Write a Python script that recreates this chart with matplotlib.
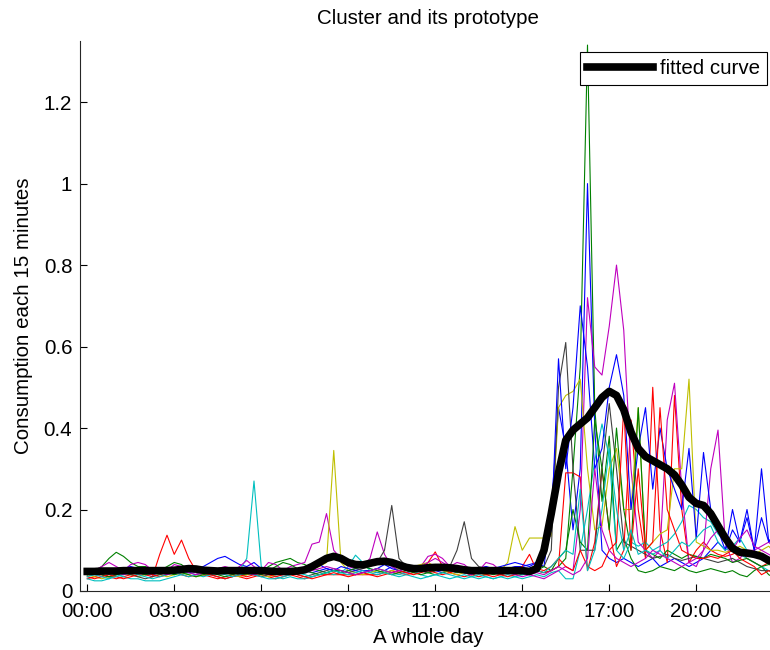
# Daily load profiles of one cluster with its fitted prototype curve

import numpy as np
import matplotlib
matplotlib.use('Agg')
import matplotlib.pyplot as plt

plt.rcParams['font.family'] = ['Liberation Sans', 'DejaVu Sans']

# 96 readings per day, one every 15 minutes
slots = np.arange(1, 97)
tick_slots = [1, 13, 25, 37, 49, 61, 73, 85]
tick_labels = ['00:00', '03:00', '06:00', '09:00', '11:00', '14:00', '17:00', '20:00']

# prototype (fitted curve)
fitted = [0.048, 0.048, 0.049, 0.049, 0.049, 0.050, 0.050, 0.050, 0.050, 0.050, 0.050, 0.050,
          0.051, 0.053, 0.055, 0.054, 0.051, 0.050, 0.049, 0.050, 0.050, 0.050, 0.050, 0.050,
          0.050, 0.049, 0.048, 0.048, 0.048, 0.049, 0.052, 0.060, 0.070, 0.080, 0.085, 0.080,
          0.070, 0.065, 0.064, 0.068, 0.072, 0.073, 0.070, 0.064, 0.058, 0.055, 0.055, 0.057,
          0.058, 0.058, 0.057, 0.055, 0.052, 0.050, 0.050, 0.050, 0.050, 0.050, 0.050, 0.050,
          0.050, 0.048, 0.055, 0.100, 0.190, 0.290, 0.370, 0.395, 0.410, 0.425, 0.450, 0.475,
          0.490, 0.480, 0.445, 0.390, 0.350, 0.330, 0.320, 0.310, 0.300, 0.285, 0.260, 0.230,
          0.215, 0.210, 0.190, 0.160, 0.130, 0.105, 0.095, 0.093, 0.090, 0.085, 0.075, 0.070]

# members of the cluster
blue1 = [0.050, 0.050, 0.050, 0.045, 0.040, 0.045, 0.050, 0.045, 0.040, 0.040, 0.045, 0.050,
         0.050, 0.045, 0.050, 0.055, 0.060, 0.070, 0.080, 0.085, 0.075, 0.065, 0.060, 0.070,
         0.055, 0.050, 0.045, 0.050, 0.045, 0.050, 0.050, 0.045, 0.050, 0.055, 0.050, 0.045,
         0.050, 0.055, 0.050, 0.050, 0.045, 0.050, 0.060, 0.050, 0.045, 0.050, 0.050, 0.045,
         0.050, 0.045, 0.050, 0.045, 0.050, 0.045, 0.050, 0.050, 0.045, 0.050, 0.055, 0.060,
         0.060, 0.065, 0.070, 0.060, 0.200, 0.450, 0.350, 0.150, 0.300, 1.000, 0.400, 0.100,
         0.080, 0.070, 0.080, 0.070, 0.060, 0.070, 0.080, 0.060, 0.070, 0.080, 0.070, 0.060,
         0.070, 0.080, 0.100, 0.120, 0.100, 0.200, 0.120, 0.180, 0.100, 0.300, 0.120, 0.150]

green1 = [0.040, 0.050, 0.060, 0.080, 0.095, 0.085, 0.070, 0.060, 0.060, 0.055, 0.050, 0.060,
          0.070, 0.065, 0.050, 0.045, 0.040, 0.040, 0.045, 0.050, 0.045, 0.040, 0.040, 0.045,
          0.050, 0.060, 0.070, 0.075, 0.080, 0.070, 0.065, 0.055, 0.050, 0.045, 0.050, 0.050,
          0.045, 0.040, 0.045, 0.050, 0.055, 0.050, 0.045, 0.050, 0.060, 0.055, 0.050, 0.045,
          0.040, 0.045, 0.050, 0.050, 0.045, 0.040, 0.045, 0.050, 0.045, 0.040, 0.045, 0.050,
          0.045, 0.040, 0.050, 0.045, 0.050, 0.060, 0.080, 0.300, 0.550, 1.340, 0.450, 0.220,
          0.380, 0.100, 0.130, 0.080, 0.050, 0.045, 0.050, 0.060, 0.055, 0.050, 0.060, 0.050,
          0.045, 0.050, 0.055, 0.050, 0.045, 0.050, 0.040, 0.035, 0.050, 0.060, 0.040, 0.030]

red1 = [0.030, 0.035, 0.040, 0.035, 0.030, 0.035, 0.040, 0.045, 0.040, 0.035, 0.090, 0.137,
        0.090, 0.125, 0.080, 0.050, 0.040, 0.035, 0.030, 0.035, 0.040, 0.035, 0.030, 0.035,
        0.040, 0.035, 0.030, 0.035, 0.040, 0.035, 0.030, 0.035, 0.040, 0.040, 0.040, 0.040,
        0.040, 0.040, 0.040, 0.040, 0.040, 0.045, 0.050, 0.045, 0.040, 0.045, 0.050, 0.070,
        0.096, 0.060, 0.045, 0.040, 0.035, 0.040, 0.045, 0.040, 0.035, 0.040, 0.045, 0.050,
        0.060, 0.090, 0.050, 0.045, 0.050, 0.060, 0.290, 0.290, 0.280, 0.050, 0.120, 0.300,
        0.150, 0.060, 0.100, 0.420, 0.200, 0.080, 0.500, 0.150, 0.070, 0.480, 0.200, 0.070,
        0.100, 0.120, 0.100, 0.090, 0.085, 0.090, 0.100, 0.080, 0.070, 0.060, 0.070, 0.060]

cyan1 = [0.030, 0.025, 0.025, 0.030, 0.040, 0.035, 0.030, 0.030, 0.025, 0.025, 0.025, 0.030,
         0.035, 0.040, 0.045, 0.040, 0.035, 0.040, 0.045, 0.050, 0.045, 0.050, 0.080, 0.270,
         0.060, 0.040, 0.035, 0.030, 0.035, 0.030, 0.030, 0.035, 0.040, 0.045, 0.040, 0.045,
         0.060, 0.088, 0.070, 0.050, 0.045, 0.050, 0.045, 0.040, 0.045, 0.050, 0.040, 0.035,
         0.040, 0.035, 0.030, 0.035, 0.040, 0.035, 0.030, 0.035, 0.030, 0.035, 0.040, 0.035,
         0.030, 0.035, 0.040, 0.035, 0.045, 0.050, 0.030, 0.030, 0.100, 0.200, 0.320, 0.410,
         0.330, 0.100, 0.080, 0.120, 0.110, 0.120, 0.100, 0.110, 0.120, 0.140, 0.170, 0.210,
         0.200, 0.180, 0.170, 0.140, 0.120, 0.100, 0.090, 0.080, 0.070, 0.060, 0.050, 0.050]

magenta1 = [0.040, 0.050, 0.060, 0.070, 0.060, 0.050, 0.065, 0.070, 0.065, 0.050, 0.045, 0.050,
            0.065, 0.060, 0.050, 0.045, 0.040, 0.045, 0.050, 0.045, 0.050, 0.060, 0.075, 0.060,
            0.050, 0.070, 0.065, 0.050, 0.060, 0.065, 0.070, 0.115, 0.120, 0.190, 0.100, 0.080,
            0.060, 0.055, 0.060, 0.080, 0.145, 0.090, 0.060, 0.050, 0.045, 0.050, 0.060, 0.085,
            0.090, 0.080, 0.060, 0.070, 0.065, 0.050, 0.055, 0.060, 0.050, 0.045, 0.050, 0.055,
            0.050, 0.040, 0.035, 0.030, 0.040, 0.050, 0.060, 0.050, 0.200, 0.720, 0.550, 0.530,
            0.650, 0.800, 0.640, 0.300, 0.120, 0.100, 0.080, 0.100, 0.420, 0.510, 0.250, 0.070,
            0.060, 0.100, 0.300, 0.395, 0.120, 0.070, 0.080, 0.100, 0.100, 0.110, 0.120, 0.100]

yellow1 = [0.040, 0.035, 0.030, 0.035, 0.040, 0.045, 0.040, 0.035, 0.040, 0.045, 0.040, 0.035,
           0.040, 0.045, 0.040, 0.035, 0.040, 0.045, 0.050, 0.045, 0.040, 0.035, 0.040, 0.045,
           0.040, 0.035, 0.040, 0.045, 0.040, 0.045, 0.050, 0.055, 0.060, 0.070, 0.345, 0.070,
           0.050, 0.045, 0.040, 0.045, 0.050, 0.045, 0.050, 0.055, 0.050, 0.060, 0.065, 0.070,
           0.060, 0.050, 0.045, 0.040, 0.045, 0.050, 0.045, 0.040, 0.045, 0.050, 0.070, 0.158,
           0.100, 0.130, 0.130, 0.130, 0.135, 0.450, 0.480, 0.490, 0.520, 0.300, 0.150, 0.160,
           0.300, 0.350, 0.200, 0.200, 0.450, 0.100, 0.120, 0.140, 0.150, 0.300, 0.300, 0.520,
           0.120, 0.110, 0.100, 0.100, 0.095, 0.100, 0.110, 0.100, 0.090, 0.100, 0.110, 0.090]

gray1 = [0.040, 0.045, 0.040, 0.035, 0.040, 0.045, 0.040, 0.035, 0.030, 0.035, 0.040, 0.045,
         0.050, 0.045, 0.055, 0.060, 0.050, 0.040, 0.035, 0.030, 0.035, 0.040, 0.045, 0.040,
         0.035, 0.040, 0.045, 0.050, 0.045, 0.040, 0.035, 0.040, 0.045, 0.050, 0.055, 0.050,
         0.045, 0.050, 0.055, 0.060, 0.070, 0.100, 0.210, 0.080, 0.060, 0.055, 0.050, 0.045,
         0.050, 0.055, 0.060, 0.100, 0.170, 0.080, 0.060, 0.055, 0.050, 0.045, 0.050, 0.055,
         0.050, 0.055, 0.060, 0.060, 0.100, 0.500, 0.610, 0.300, 0.100, 0.100, 0.100, 0.300,
         0.460, 0.300, 0.120, 0.110, 0.100, 0.090, 0.080, 0.085, 0.090, 0.080, 0.075, 0.080,
         0.085, 0.080, 0.075, 0.070, 0.075, 0.080, 0.070, 0.060, 0.055, 0.050, 0.050, 0.045]

blue2 = [0.055, 0.055, 0.055, 0.050, 0.050, 0.055, 0.060, 0.055, 0.050, 0.045, 0.050, 0.055,
         0.055, 0.050, 0.045, 0.050, 0.055, 0.050, 0.045, 0.050, 0.055, 0.050, 0.045, 0.050,
         0.050, 0.045, 0.040, 0.045, 0.050, 0.045, 0.050, 0.060, 0.065, 0.055, 0.050, 0.060,
         0.055, 0.050, 0.045, 0.050, 0.055, 0.065, 0.055, 0.050, 0.055, 0.060, 0.055, 0.050,
         0.055, 0.050, 0.055, 0.060, 0.055, 0.050, 0.055, 0.060, 0.055, 0.060, 0.065, 0.070,
         0.065, 0.060, 0.070, 0.080, 0.150, 0.570, 0.300, 0.450, 0.700, 0.550, 0.300, 0.350,
         0.500, 0.580, 0.480, 0.200, 0.350, 0.450, 0.250, 0.400, 0.300, 0.250, 0.200, 0.350,
         0.130, 0.340, 0.200, 0.150, 0.100, 0.150, 0.120, 0.200, 0.100, 0.180, 0.120, 0.150]

green2 = [0.040, 0.045, 0.040, 0.035, 0.040, 0.045, 0.050, 0.045, 0.040, 0.045, 0.050, 0.045,
          0.040, 0.045, 0.040, 0.035, 0.040, 0.045, 0.040, 0.035, 0.040, 0.045, 0.050, 0.045,
          0.040, 0.050, 0.060, 0.070, 0.065, 0.055, 0.050, 0.045, 0.040, 0.045, 0.050, 0.045,
          0.050, 0.055, 0.060, 0.055, 0.050, 0.045, 0.040, 0.045, 0.050, 0.045, 0.040, 0.045,
          0.050, 0.055, 0.050, 0.045, 0.050, 0.055, 0.050, 0.045, 0.040, 0.045, 0.050, 0.045,
          0.040, 0.045, 0.050, 0.060, 0.050, 0.080, 0.100, 0.200, 0.120, 0.100, 0.420, 0.300,
          0.150, 0.400, 0.200, 0.100, 0.450, 0.100, 0.090, 0.080, 0.100, 0.090, 0.080, 0.090,
          0.085, 0.080, 0.090, 0.085, 0.080, 0.070, 0.075, 0.080, 0.070, 0.060, 0.065, 0.060]

red2 = [0.035, 0.030, 0.035, 0.040, 0.035, 0.030, 0.035, 0.040, 0.045, 0.040, 0.035, 0.040,
        0.045, 0.040, 0.035, 0.040, 0.045, 0.040, 0.035, 0.030, 0.035, 0.040, 0.035, 0.040,
        0.045, 0.040, 0.035, 0.040, 0.045, 0.040, 0.035, 0.030, 0.035, 0.040, 0.045, 0.040,
        0.035, 0.040, 0.045, 0.040, 0.035, 0.040, 0.045, 0.050, 0.045, 0.040, 0.045, 0.050,
        0.045, 0.040, 0.045, 0.050, 0.045, 0.040, 0.035, 0.040, 0.045, 0.040, 0.035, 0.040,
        0.045, 0.050, 0.055, 0.050, 0.060, 0.080, 0.060, 0.050, 0.100, 0.060, 0.050, 0.060,
        0.100, 0.120, 0.450, 0.100, 0.300, 0.100, 0.120, 0.450, 0.200, 0.150, 0.100, 0.090,
        0.080, 0.080, 0.085, 0.080, 0.090, 0.100, 0.080, 0.070, 0.060, 0.040, 0.050, 0.040]

cyan2 = [0.035, 0.040, 0.035, 0.030, 0.035, 0.040, 0.045, 0.040, 0.035, 0.030, 0.035, 0.040,
         0.045, 0.040, 0.035, 0.040, 0.045, 0.050, 0.045, 0.040, 0.035, 0.040, 0.045, 0.040,
         0.035, 0.030, 0.030, 0.035, 0.040, 0.045, 0.040, 0.035, 0.040, 0.045, 0.050, 0.045,
         0.040, 0.045, 0.050, 0.045, 0.040, 0.045, 0.040, 0.035, 0.040, 0.035, 0.030, 0.035,
         0.040, 0.045, 0.040, 0.035, 0.030, 0.035, 0.040, 0.035, 0.030, 0.035, 0.030, 0.035,
         0.040, 0.045, 0.050, 0.045, 0.060, 0.080, 0.100, 0.090, 0.250, 0.050, 0.100, 0.200,
         0.350, 0.200, 0.100, 0.150, 0.090, 0.100, 0.090, 0.100, 0.080, 0.100, 0.120, 0.110,
         0.130, 0.150, 0.160, 0.120, 0.100, 0.110, 0.130, 0.100, 0.090, 0.080, 0.070, 0.060]

magenta2 = [0.045, 0.050, 0.055, 0.050, 0.045, 0.040, 0.045, 0.050, 0.055, 0.050, 0.045, 0.040,
            0.045, 0.050, 0.045, 0.040, 0.045, 0.050, 0.055, 0.060, 0.055, 0.050, 0.045, 0.040,
            0.045, 0.050, 0.045, 0.040, 0.045, 0.050, 0.045, 0.050, 0.055, 0.060, 0.055, 0.050,
            0.045, 0.040, 0.045, 0.050, 0.055, 0.050, 0.045, 0.050, 0.055, 0.050, 0.060, 0.070,
            0.080, 0.070, 0.060, 0.050, 0.045, 0.040, 0.050, 0.070, 0.065, 0.050, 0.045, 0.040,
            0.035, 0.040, 0.045, 0.040, 0.050, 0.060, 0.050, 0.040, 0.050, 0.080, 0.300, 0.150,
            0.100, 0.080, 0.070, 0.060, 0.070, 0.080, 0.100, 0.090, 0.080, 0.070, 0.060, 0.070,
            0.080, 0.100, 0.130, 0.150, 0.120, 0.100, 0.130, 0.150, 0.110, 0.100, 0.090, 0.080]

members = [blue1, green1, red1, cyan1, magenta1, yellow1, gray1,
           blue2, green2, red2, cyan2, magenta2]

# classic colour order: b, g, r, c, m, y, dark grey
color_order = [(0, 0, 1), (0, 0.5, 0), (1, 0, 0), (0, 0.75, 0.75),
               (0.75, 0, 0.75), (0.75, 0.75, 0), (0.25, 0.25, 0.25)]

fs = 14.8  # font size for all texts

fig = plt.figure(figsize=(7.7, 6.5), dpi=100)
ax = fig.add_axes([80 / 770, 59 / 650, 696 / 770, 550 / 650])

for i, series in enumerate(members):
    ax.plot(slots, series, color=color_order[i % len(color_order)], lw=0.8)

ax.plot(slots, fitted, color='k', lw=5.5, label='fitted curve')

ax.set_xlim(0, 96)
ax.set_ylim(0, 1.35)
ax.set_xticks(tick_slots)
ax.set_xticklabels(tick_labels)
ax.set_yticks([0, 0.2, 0.4, 0.6, 0.8, 1.0, 1.2])
ax.set_yticklabels(['0', '0.2', '0.4', '0.6', '0.8', '1', '1.2'])
ax.tick_params(direction='in', length=5, width=0.8, labelsize=fs, colors='k')
ax.tick_params(axis='x', pad=8)
ax.tick_params(axis='y', pad=5.5)
ax.spines['top'].set_visible(False)
ax.spines['right'].set_visible(False)
ax.spines['left'].set_color('0.15')
ax.spines['bottom'].set_color('0.15')

ax.set_xlabel('A whole day', fontsize=fs, labelpad=5)
ax.set_ylabel('Consumption each 15 minutes', fontsize=fs, labelpad=8)
ax.set_title('Cluster and its prototype', fontsize=fs, pad=12)

leg = ax.legend(loc='upper right', bbox_to_anchor=(0.987, 0.98), borderaxespad=0,
                fontsize=fs, handlelength=3.2, fancybox=False, framealpha=1,
                edgecolor='k', borderpad=0.35, handletextpad=0.35)
leg.get_frame().set_linewidth(0.8)

fig.savefig('out.png', dpi=100)
